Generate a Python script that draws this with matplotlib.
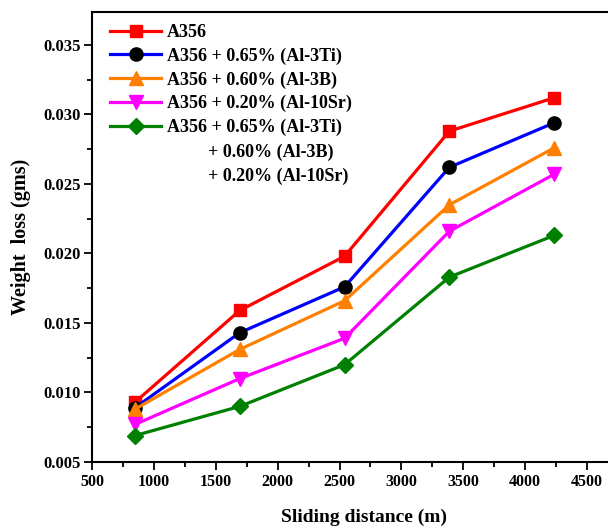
import matplotlib
matplotlib.use('Agg')
import matplotlib.pyplot as plt
from matplotlib.ticker import MultipleLocator

plt.rcParams['font.family'] = ['Liberation Serif', 'DejaVu Serif']
plt.rcParams['font.weight'] = 'bold'

distance = [847, 1694, 2541, 3388, 4235]
a356 = [0.0093, 0.0159, 0.0198, 0.0288, 0.0312]
a356_ti = [0.0089, 0.0143, 0.0176, 0.0262, 0.0294]
a356_b = [0.0088, 0.0131, 0.0166, 0.0235, 0.0276]
a356_sr = [0.0077, 0.0110, 0.0139, 0.0216, 0.0257]
a356_all = [0.0069, 0.0090, 0.0120, 0.0183, 0.0213]

labels = ['A356',
          'A356 + 0.65% (Al-3Ti)',
          'A356 + 0.60% (Al-3B)',
          'A356 + 0.20% (Al-10Sr)',
          'A356 + 0.65% (Al-3Ti)']
extra_lines = ['+ 0.60% (Al-3B)', '+ 0.20% (Al-10Sr)']

fig = plt.figure(figsize=(6.08, 5.28), dpi=100)
# axes run past the right edge, as in the cropped original
ax = fig.add_axes([92 / 608, 66 / 528, (4900 - 500) * 0.12375 / 608, 450 / 528])

style = [
    (a356, '#ff0000', '#ff0000', 's', 9),
    (a356_ti, '#0000ff', '#000000', 'o', 9.5),
    (a356_b, '#ff8000', '#ff8000', '^', 10),
    (a356_sr, '#ff00ff', '#ff00ff', 'v', 10),
    (a356_all, '#008000', '#008000', 'D', 8.5),
]
for (vals, lc, mc, mk, ms), lab in zip(style, labels):
    ax.plot(distance, vals, '-', color=lc, lw=2.3, marker=mk, ms=ms,
            mfc=mc, mec=mc, label=lab)

ax.set_xlim(500, 4900)
ax.set_ylim(0.005, 0.03737)
ax.xaxis.set_major_locator(MultipleLocator(500))
ax.xaxis.set_minor_locator(MultipleLocator(250))
ax.yaxis.set_major_locator(MultipleLocator(0.005))
ax.yaxis.set_minor_locator(MultipleLocator(0.0025))
ax.yaxis.set_major_formatter(plt.FuncFormatter(lambda v, p: f'{v:.3f}'))
ax.tick_params(which='both', direction='out', width=1.3)
ax.tick_params(axis='x', labelsize=11.5, pad=3)
ax.tick_params(axis='y', labelsize=12, pad=2)
ax.tick_params(which='major', length=6)
ax.tick_params(which='minor', length=3.5)
for s in ax.spines.values():
    s.set_linewidth(1.5)

ax.set_xlabel('Sliding distance (m)', fontsize=14, fontweight='bold', labelpad=13)
ax.set_ylabel('Weight  loss (gms)', fontsize=14.5, fontweight='bold', labelpad=9)

leg = ax.legend(loc='upper left', bbox_to_anchor=(0.0198, 0.9893), frameon=False,
                handlelength=2.85, borderaxespad=0, borderpad=0.4,
                labelspacing=0.36, handletextpad=0.3,
                prop={'weight': 'bold', 'size': 13})

# continuation lines of the last legend entry, indented under the "+"
for i, line in enumerate(extra_lines):
    fig.text(208 / 608, 1 - (152 + 24 * i) / 528, line, ha='left', va='center',
             fontsize=13, fontweight='bold')

fig.savefig('out.png', dpi=100)
